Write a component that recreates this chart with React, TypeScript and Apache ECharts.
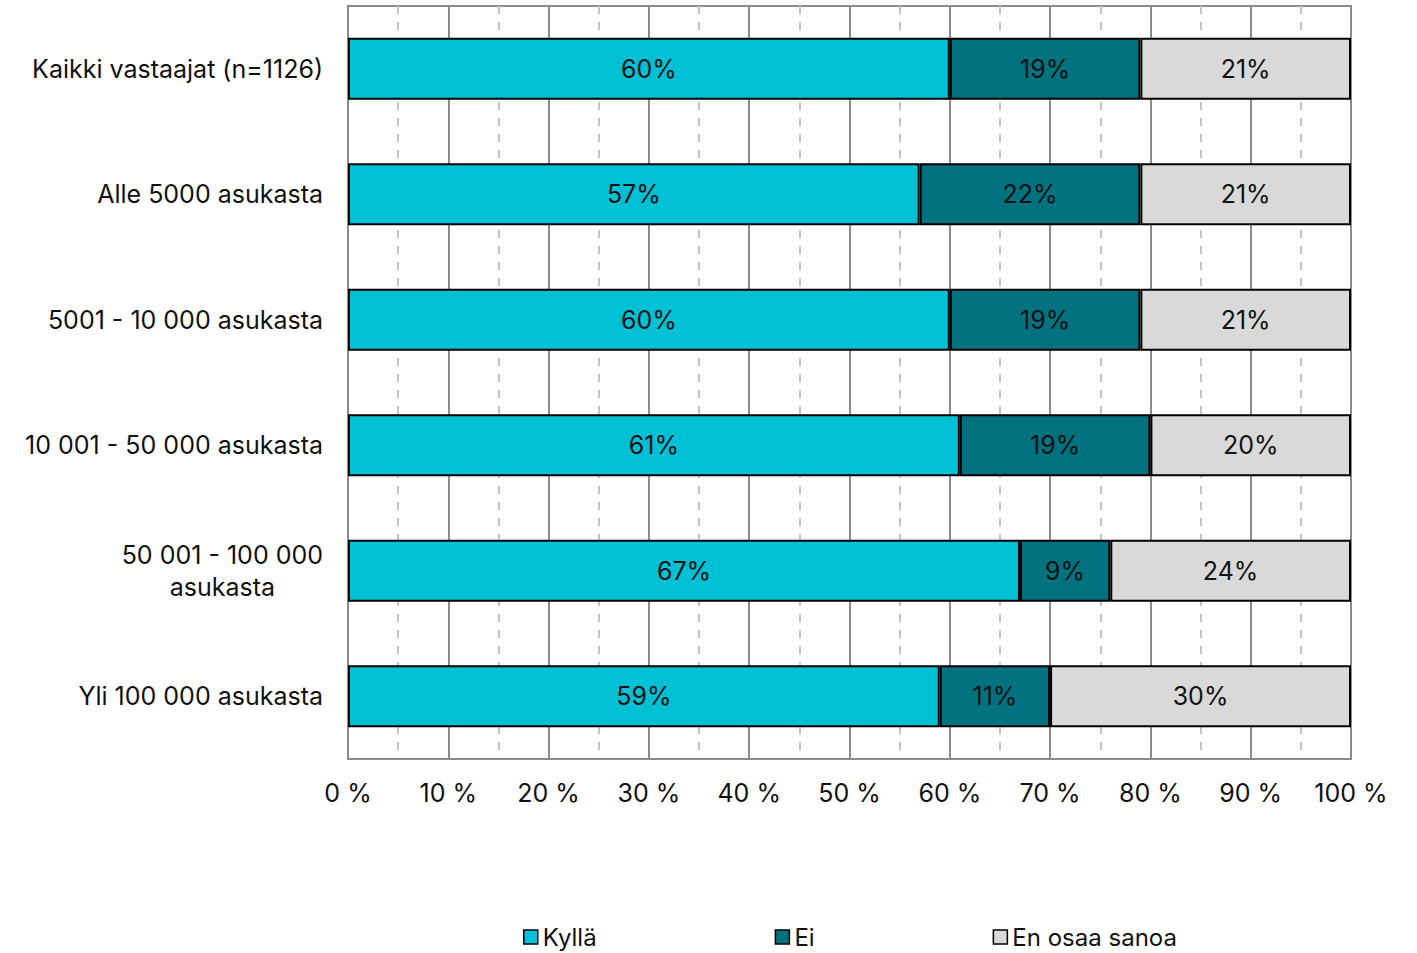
import React, { useEffect, useRef } from "react";
import * as echarts from "echarts";

const categories = [
  "Kaikki vastaajat (n=1126)",
  "Alle 5000 asukasta",
  "5001 - 10 000 asukasta",
  "10 001 - 50 000 asukasta",
  "50 001 - 100 000\nasukasta",
  "Yli 100 000 asukasta",
];
const kylla = [60, 57, 60, 61, 67, 59];
const ei = [19, 22, 19, 19, 9, 11];
const enOsaa = [21, 21, 21, 20, 24, 30];
const seriesNames = ["Kyllä", "Ei", "En osaa sanoa"];
const colors = ["#00C0D6", "#00717E", "#D9D9D9"];

const FONT = "Inter, 'Noto Sans', sans-serif";
const FS = 25;

export default function App() {
  const ref = useRef<HTMLDivElement>(null);
  useEffect(() => {
    document.body.style.margin = "0";
    if (!ref.current) return;
    const chart = echarts.init(ref.current, undefined, { renderer: "svg" });
    const values = [kylla, ei, enOsaa];
    chart.setOption({
      animation: false,
      textStyle: { fontFamily: FONT },
      grid: {
        left: 348,
        right: 66,
        top: 6,
        bottom: 194,
        containLabel: false,
        show: true,
        borderColor: "#8C8C8C",
        borderWidth: 2,
        backgroundColor: "transparent",
      },
      legend: {
        left: 523,
        top: 925,
        padding: 0,
        itemGap: 178,
        itemWidth: 14,
        itemHeight: 14,
        icon: "rect",
        itemStyle: { borderColor: "#000", borderWidth: 1.5 },
        textStyle: { fontSize: FS - 1, color: "#111", fontFamily: FONT },
        data: seriesNames,
      },
      xAxis: {
        type: "value",
        min: 0,
        max: 100,
        interval: 10,
        axisLine: { show: true, lineStyle: { color: "#8C8C8C", width: 2 } },
        axisTick: { show: false },
        axisLabel: {
          formatter: "{value} %",
          fontSize: FS,
          color: "#111",
          margin: 21,
          fontFamily: FONT,
        },
        splitLine: { show: true, lineStyle: { color: "#8C8C8C", width: 2 } },
        minorTick: { show: false, splitNumber: 2 },
        minorSplitLine: {
          show: true,
          lineStyle: { color: "#C4C4C4", width: 2, type: [8, 8] },
        },
      },
      yAxis: {
        type: "category",
        inverse: true,
        data: categories,
        axisLine: { show: true, lineStyle: { color: "#8C8C8C", width: 2 } },
        axisTick: { show: false },
        axisLabel: {
          margin: 25,
          formatter: (v: string) => v.split("\n").map((l) => "{c|" + l + "}").join("\n"),
          rich: {
            c: { fontSize: FS, color: "#111", fontFamily: FONT, align: "center", lineHeight: 32 },
          },
        },
      },
      series: seriesNames.map((name, i) => ({
        name,
        type: "bar",
        stack: "total",
        barWidth: 62,
        data: values[i],
        itemStyle: { color: colors[i], borderColor: "#000", borderWidth: 2 },
        label: {
          show: true,
          position: "inside",
          formatter: "{c}%",
          fontSize: FS,
          color: "#111",
          fontFamily: FONT,
        },
        emphasis: { disabled: true },
      })),
    });
    return () => chart.dispose();
  }, []);
  return <div ref={ref} style={{ width: 1417, height: 953 }} />;
}
